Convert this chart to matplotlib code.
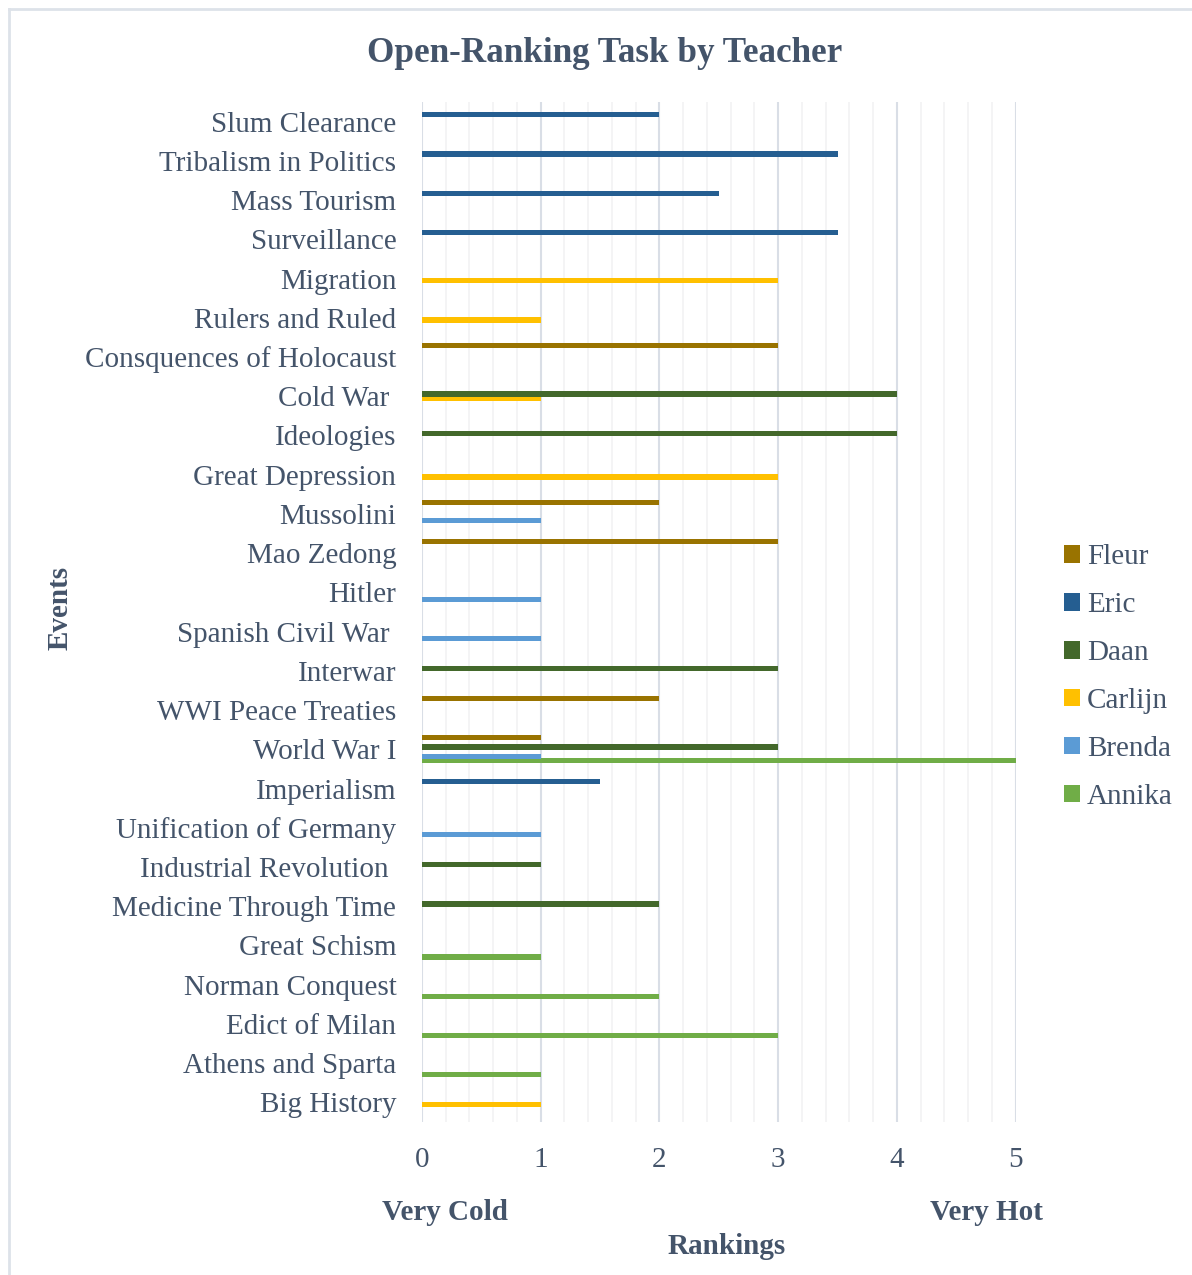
import matplotlib
matplotlib.use("Agg")
import matplotlib.pyplot as plt
import numpy as np
from matplotlib.lines import Line2D

categories = ["Big History", "Athens and Sparta", "Edict of Milan", "Norman Conquest",
              "Great Schism", "Medicine Through Time", "Industrial Revolution ",
              "Unification of Germany", "Imperialism", "World War I", "WWI Peace Treaties",
              "Interwar", "Spanish Civil War ", "Hitler", "Mao Zedong", "Mussolini",
              "Great Depression", "Ideologies", "Cold War ", "Consquences of Holocaust",
              "Rulers and Ruled", "Migration", "Surveillance", "Mass Tourism",
              "Tribalism in Politics", "Slum Clearance"]

series_names = ["Annika", "Brenda", "Carlijn", "Daan", "Eric", "Fleur"]
annika  = [0, 1, 3, 2, 1, 0, 0, 0, 0, 5, 0, 0, 0, 0, 0, 0, 0, 0, 0, 0, 0, 0, 0, 0, 0, 0]
brenda  = [0, 0, 0, 0, 0, 0, 0, 1, 0, 1, 0, 0, 1, 1, 0, 1, 0, 0, 0, 0, 0, 0, 0, 0, 0, 0]
carlijn = [1, 0, 0, 0, 0, 0, 0, 0, 0, 0, 0, 0, 0, 0, 0, 0, 3, 0, 1, 0, 1, 3, 0, 0, 0, 0]
daan    = [0, 0, 0, 0, 0, 2, 1, 0, 0, 3, 0, 3, 0, 0, 0, 0, 0, 4, 4, 0, 0, 0, 0, 0, 0, 0]
eric    = [0, 0, 0, 0, 0, 0, 0, 0, 1.5, 0, 0, 0, 0, 0, 0, 0, 0, 0, 0, 0, 0, 0, 3.5, 2.5, 3.5, 2]
fleur   = [0, 0, 0, 0, 0, 0, 0, 0, 0, 1, 2, 0, 0, 0, 3, 2, 0, 0, 0, 3, 0, 0, 0, 0, 0, 0]
series_values = [annika, brenda, carlijn, daan, eric, fleur]
colors = ["#70AD47", "#5B9BD5", "#FFC000", "#43682B", "#255E91", "#997300"]
x_ticks = [0, 1, 2, 3, 4, 5]

TXT = "#44546A"
SERIF = ["Liberation Serif", "DejaVu Serif"]
plt.rcParams["font.family"] = SERIF
FS = 21

W, H = 1192, 1275
fig = plt.figure(figsize=(W / 100, H / 100), dpi=100)

# axes placement in pixels
L, R, T, B = 422, 1015.7, 102, 1122
ax = fig.add_axes([L / W, 1 - B / H, (R - L) / W, (B - T) / H])

n = len(categories)
y = np.arange(n)
step = 0.117
for i, (name, vals, c) in enumerate(zip(series_names, series_values, colors)):
    off = (i - 2.5) * step
    ax.barh(y + off, vals, height=step * 1.12, color=c, label=name, zorder=3, linewidth=0)

ax.set_xlim(0, 5)
ax.set_ylim(-0.5, n - 0.5)
ax.set_yticks(y)
ax.set_yticklabels(categories, fontsize=FS, color=TXT)
ax.set_xticks(x_ticks)
ax.set_xticklabels([str(t) for t in x_ticks], fontsize=FS, color=TXT)
ax.set_xticks(np.arange(0, 5.01, 0.2), minor=True)
ax.tick_params(axis="both", which="both", length=0)
ax.tick_params(axis="x", pad=18)
ax.tick_params(axis="y", pad=18.5)
ax.grid(axis="x", which="minor", color="#F2F2F4", linewidth=1.2, zorder=0)
ax.grid(axis="x", which="major", color="#D9DEE6", linewidth=1.5, zorder=1)
for s in ax.spines.values():
    s.set_visible(False)

# Title and axis texts
fig.text(605 / W, 1 - 53 / H, "Open-Ranking Task by Teacher", ha="center", va="center",
         fontsize=25.3, fontweight="bold", color=TXT)
fig.text(60 / W, 1 - 608 / H, "Events", ha="center", va="center", rotation=90,
         fontsize=FS, fontweight="bold", color=TXT)
fig.text(445 / W, 1 - 1213 / H, "Very Cold", ha="center", va="center",
         fontsize=FS, fontweight="bold", color=TXT)
fig.text(986 / W, 1 - 1213 / H, "Very Hot", ha="center", va="center",
         fontsize=FS, fontweight="bold", color=TXT)
fig.text(727 / W, 1 - 1247 / H, "Rankings", ha="center", va="center",
         fontsize=FS, fontweight="bold", color=TXT)

# Legend (reversed order)
handles, labels = ax.get_legend_handles_labels()
leg = fig.legend(handles[::-1], labels[::-1], loc="center left",
                 bbox_to_anchor=(1052 / W, 1 - 677 / H), frameon=False,
                 fontsize=FS, handlelength=0.55, handleheight=0.55,
                 handletextpad=0.25, labelspacing=0.75, borderaxespad=0)
for t in leg.get_texts():
    t.set_color(TXT)

# chart area border (left and top visible)
fig.add_artist(Line2D([9 / W, 9 / W], [0, 1 - 9 / H], transform=fig.transFigure,
                      color="#DDE2E9", linewidth=2))
fig.add_artist(Line2D([9 / W, 1], [1 - 9 / H, 1 - 9 / H], transform=fig.transFigure,
                      color="#DDE2E9", linewidth=2))

fig.savefig("out.png", dpi=100, facecolor="white")
